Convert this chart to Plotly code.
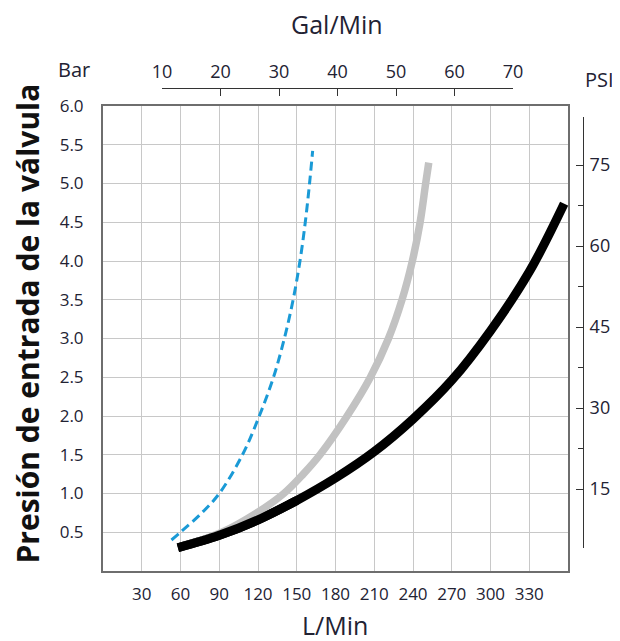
import plotly.graph_objects as go

# ---------------- data ----------------
blue_L = [53, 60, 76.5, 90, 108, 121, 132, 140.4, 147.2, 152.5, 156.6, 159.9, 162.3]
blue_bar = [0.40, 0.50, 0.75, 1.00, 1.50, 2.00, 2.50, 3.00, 3.50, 4.00, 4.50, 5.00, 5.42]

gray_L = [60, 92, 119, 140, 155, 168, 189, 207, 221, 231.5, 239.5, 245.5, 249.8, 252.2]
gray_bar = [0.31, 0.50, 0.75, 1.00, 1.25, 1.50, 2.00, 2.50, 3.00, 3.50, 4.00, 4.50, 5.00, 5.27]

black_L = [58, 90, 120, 150, 180, 210, 240, 270, 300, 330, 357]
black_bar = [0.30, 0.46, 0.66, 0.91, 1.20, 1.54, 1.96, 2.46, 3.10, 3.86, 4.74]

lmin_ticks = [30, 60, 90, 120, 150, 180, 210, 240, 270, 300, 330]
bar_ticks = [0.5, 1.0, 1.5, 2.0, 2.5, 3.0, 3.5, 4.0, 4.5, 5.0, 5.5, 6.0]
gal_ticks = [10, 20, 30, 40, 50, 60, 70]
psi_ticks = [15, 30, 45, 60, 75]
psi_minor = [22.5, 37.5, 52.5, 67.5]
psi_ends = [4.1, 83.9]

FONT = "Open Sans"
TXT = "#222233"
TICK = 17

fig = go.Figure()
fig.add_trace(go.Scatter(x=black_L, y=black_bar, mode="lines",
                         line=dict(color="#000000", width=9, shape="spline", smoothing=1),
                         hoverinfo="skip", showlegend=False))
fig.add_trace(go.Scatter(x=gray_L, y=gray_bar, mode="lines",
                         line=dict(color="#c2c2c2", width=7.5, shape="spline", smoothing=1),
                         hoverinfo="skip", showlegend=False))
# black again on top where the two overlap at low flows
fig.add_trace(go.Scatter(x=black_L[:4], y=black_bar[:4], mode="lines",
                         line=dict(color="#000000", width=9, shape="spline", smoothing=1),
                         hoverinfo="skip", showlegend=False))
fig.add_trace(go.Scatter(x=blue_L, y=blue_bar, mode="lines",
                         line=dict(color="#1a9ad6", width=3, dash="9px,5px", shape="spline", smoothing=1),
                         hoverinfo="skip", showlegend=False))
# empty trace so the decorative secondary axes are drawn
fig.add_trace(go.Scatter(x=[], y=[], xaxis="x2", yaxis="y2", hoverinfo="skip", showlegend=False))

fig.update_layout(
    width=612, height=633,
    margin=dict(l=95, r=37, t=80, b=70),
    paper_bgcolor="white", plot_bgcolor="rgba(0,0,0,0)",
    font=dict(family=FONT, color=TXT, size=14),
    xaxis=dict(domain=[0, 0.96875], range=[0, 360], tickvals=lmin_ticks, automargin=False,
               showgrid=True, gridcolor="#c8c8c8", gridwidth=1, zeroline=False,
               showline=True, linecolor="#6e6e6e", linewidth=2, mirror=True,
               ticks="", ticklabelstandoff=7, tickfont=dict(size=TICK, color=TXT)),
    yaxis=dict(domain=[0, 0.9627], range=[0, 6], tickvals=bar_ticks, tickformat=".1f", automargin=False,
               showgrid=True, gridcolor="#c8c8c8", gridwidth=1, zeroline=False,
               showline=True, linecolor="#6e6e6e", linewidth=2, mirror=True,
               ticks="", ticklabelstandoff=14, tickfont=dict(size=TICK, color=TXT)),
    xaxis2=dict(anchor="free", position=1, side="top", automargin=False,
                domain=[0.1229, 0.8542], range=[10, 70], tickvals=gal_ticks,
                ticks="inside", ticklen=7, tickcolor="#333333", tickwidth=1,
                showline=True, linecolor="#333333", linewidth=1,
                showgrid=False, zeroline=False, ticklabelstandoff=3,
                tickfont=dict(size=TICK + 1, color=TXT)),
    yaxis2=dict(anchor="free", position=1, side="right", automargin=False,
                domain=[0.0476, 0.94], range=psi_ends,
                tickvals=[psi_ends[0]] + psi_ticks + [psi_ends[1]],
                ticktext=[""] + [str(v) for v in psi_ticks] + [""],
                ticks="inside", ticklen=7, tickcolor="#333333", tickwidth=1,
                minor=dict(tickvals=psi_minor, ticks="inside", ticklen=5, tickcolor="#333333", tickwidth=1),
                showline=True, linecolor="#333333", linewidth=1,
                showgrid=False, zeroline=False, ticklabelstandoff=2,
                tickfont=dict(size=TICK + 1, color=TXT)),
)

ann = [
    dict(text="Gal/Min", x=0.4875, y=1.1326, size=25),
    dict(text="Bar", x=-0.0594, y=1.0393, size=20),
    dict(text="PSI", x=1.0354, y=1.0186, size=20),
    dict(text="L/Min", x=0.4833, y=-0.1119, size=25),
]
for a in ann:
    fig.add_annotation(text=a["text"], x=a["x"], y=a["y"], xref="paper", yref="paper",
                       xanchor="center", yanchor="middle", showarrow=False, borderpad=0,
                       font=dict(family=FONT, size=a["size"], color=TXT))
fig.add_annotation(text="Presión de entrada de la válvula", x=-0.1583, y=0.5124, xref="paper", yref="paper",
                   xanchor="center", yanchor="middle", showarrow=False, textangle=-90, borderpad=0,
                   font=dict(family=FONT, size=30, color="#111111", weight="bold"))

fig.write_html("out.html")
